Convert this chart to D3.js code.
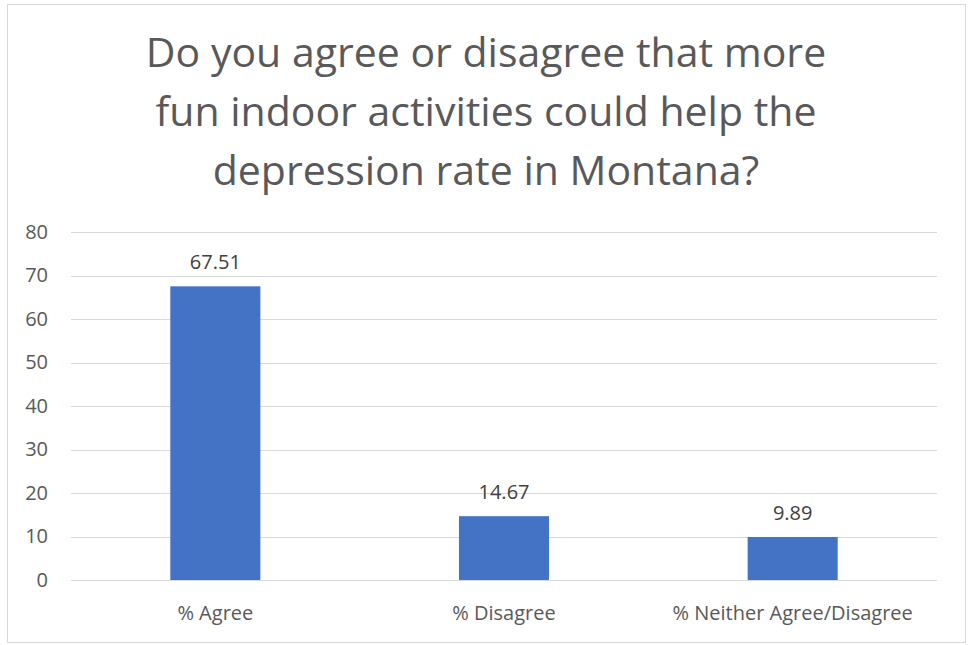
<!DOCTYPE html>
<html><head><meta charset="utf-8">
<script src="https://cdn.jsdelivr.net/npm/d3@7/dist/d3.min.js"></script>
<style>body{margin:0;background:#fff;}svg{display:block;font-family:"Open Sans",sans-serif;}</style>
</head><body><svg id="c" width="969" height="645"></svg>
<script>
const categories = ["% Agree", "% Disagree", "% Neither Agree/Disagree"];
const values = [67.51, 14.67, 9.89];
const yTicks = [0, 10, 20, 30, 40, 50, 60, 70, 80];
const titleLines = ["Do you agree or disagree that more", "fun indoor activities could help the", "depression rate in Montana?"];

const svg = d3.select("#c");
svg.append("rect").attr("x",7.5).attr("y",4.5).attr("width",958).attr("height",638)
  .attr("fill","#fff").attr("stroke","#d9d9d9").attr("stroke-width",1);

const L=71, R=937, T=232, B=580;
const x = d3.scaleBand().domain(categories).range([L,R]);
const y = d3.scaleLinear().domain([0,80]).range([B,T]);
const barW = x.bandwidth()*0.312;

const title = svg.append("text").attr("text-anchor","middle").attr("fill","#595959")
  .attr("font-size",41);
titleLines.forEach((t,i)=>title.append("tspan").attr("x",486).attr("y",67+i*59).text(t));

const grid = svg.append("g");
grid.selectAll("line").data(yTicks).join("line")
  .attr("x1",L).attr("x2",R).attr("y1",d=>Math.round(y(d))+0.5).attr("y2",d=>Math.round(y(d))+0.5)
  .attr("stroke","#d9d9d9").attr("stroke-width",1);

const fs = 20;
const yAxis = d3.axisLeft(y).tickValues(yTicks).tickSize(0).tickPadding(0);
const ga = svg.append("g").attr("transform",`translate(48,0)`).call(yAxis);
ga.select(".domain").remove();
ga.selectAll("text").attr("font-size",fs).attr("fill","#595959").attr("font-family","'Open Sans',sans-serif");

svg.append("g").selectAll("rect").data(values).join("rect")
  .attr("x",(d,i)=>x(categories[i])+x.bandwidth()/2-barW/2)
  .attr("width",barW)
  .attr("y",d=>y(d)).attr("height",d=>B-y(d))
  .attr("fill","#4472c4");

svg.append("g").selectAll("text").data(values).join("text")
  .attr("x",(d,i)=>x(categories[i])+x.bandwidth()/2)
  .attr("y",d=>y(d)-17).attr("text-anchor","middle")
  .attr("font-size",fs).attr("fill","#404040").text(d=>d.toFixed(2));

const xAxis = d3.axisBottom(x).tickSize(0).tickPadding(0);
const gx = svg.append("g").attr("transform",`translate(0,${B+40})`).call(xAxis);
gx.select(".domain").remove();
gx.selectAll("text").attr("font-size",fs).attr("fill","#595959").attr("font-family","'Open Sans',sans-serif").attr("dy",0);
</script></body></html>
